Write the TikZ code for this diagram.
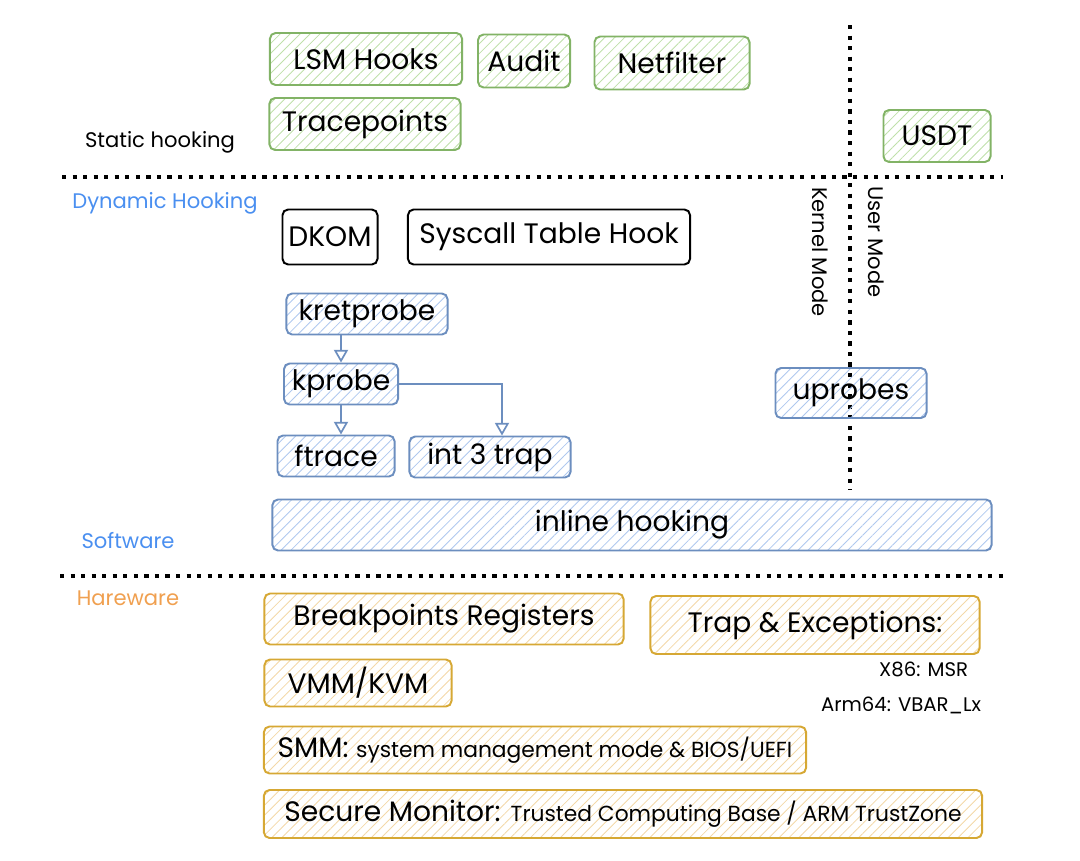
\documentclass[tikz,border=0pt]{standalone}
\usepackage{fontspec}
\setmainfont{Poppins}
\usetikzlibrary{positioning,calc,arrows.meta,patterns.meta}

\definecolor{grnline}{HTML}{82B366}
\definecolor{grnfill}{HTML}{BFE0AA}
\definecolor{bluline}{HTML}{6C8EBF}
\definecolor{blufill}{HTML}{AFC8EE}
\definecolor{orgline}{HTML}{D6A834}
\definecolor{orgfill}{HTML}{F3D8A8}
\definecolor{lbltblue}{HTML}{4A8FF0}
\definecolor{lblorange}{HTML}{F0A050}

\begin{document}
\begin{tikzpicture}[x=0.025cm, y=-0.025cm,
    box/.style={draw, line width=1.4pt, rounded corners=4pt, inner sep=0pt,
        font=\fontsize{20}{24}\selectfont},
    grnbox/.style={box, draw=grnline, pattern={Lines[angle=45,distance=5pt,line width=0.6pt]}, pattern color=grnfill},
    blubox/.style={box, draw=bluline, pattern={Lines[angle=45,distance=5pt,line width=0.6pt]}, pattern color=blufill},
    orgbox/.style={box, draw=orgline, pattern={Lines[angle=45,distance=5pt,line width=0.6pt]}, pattern color=orgfill},
    blkbox/.style={box, draw=black, fill=white},
    sep/.style={line width=2.4pt, dash pattern=on 3pt off 4.5pt},
    lbl/.style={font=\fontsize{15}{18}\selectfont},
    note/.style={anchor=east, font=\fontsize{14}{17}\selectfont},
    link/.style={draw=bluline, line width=1.2pt, -{Triangle[open,length=9pt,width=10pt]}}]

    \useasboundingbox (0,0) rectangle (1080,861);

    % separators
    \coordinate (L1) at (62,177);
    \coordinate (R1) at (1003,177);
    \coordinate (L2) at (60,576);
    \coordinate (R2) at (1003,576);
    \coordinate (T) at (850,25);
    \coordinate (B) at (850,490);
    \draw[sep] (L1) -- (R1);
    \draw[sep] (L2) -- (R2);
    \draw[sep] (T) -- (B);

    % labels
    \node[lbl] (static) at (160,142) {Static hooking};
    \node[lbl, text=lbltblue] (dynamic) at (165,203) {Dynamic Hooking};
    \node[lbl, text=lbltblue] (software) at (128,541) {Software};
    \node[lbl, text=lblorange] (hardware) at (128,598) {Hareware};
    \node[lbl, rotate=-90] (kernel) at (820,252) {Kernel Mode};
    \node[lbl, rotate=-90] (user) at (876,242) {User Mode};

    % static hooks
    \node[grnbox, minimum width=4.8cm, minimum height=1.3cm] (lsm) at (366,59) {LSM Hooks};
    \node[grnbox, minimum width=2.3cm, minimum height=1.325cm] (audit) at (524,61) {Audit};
    \node[grnbox, minimum width=3.875cm, minimum height=1.325cm] (netfilter) at (672,63) {Netfilter};
    \node[grnbox, minimum width=4.775cm, minimum height=1.3cm] (tracepoints) at (365,124) {Tracepoints};
    \node[grnbox, minimum width=2.675cm, minimum height=1.3cm] (usdt) at (937,136) {USDT};

    % dynamic hooks
    \node[blkbox, minimum width=2.375cm, minimum height=1.375cm] (dkom) at (330,237) {DKOM};
    \node[blkbox, minimum width=7.05cm, minimum height=1.375cm] (syscall) at (549,237) {Syscall Table Hook};
    \node[blubox, minimum width=4.025cm, minimum height=1.025cm] (kretprobe) at (367,314) {kretprobe};
    \node[blubox, minimum width=2.85cm, minimum height=1.025cm] (kprobe) at (341,384) {kprobe};
    \node[blubox, minimum width=2.925cm, minimum height=1.025cm] (ftrace) at (336,456) {ftrace};
    \node[blubox, minimum width=4.025cm, minimum height=1.025cm] (int3) at (490,457) {int 3 trap};
    \node[blubox, minimum width=3.775cm, minimum height=1.25cm] (uprobes) at (851,393) {uprobes};
    \node[blubox, minimum width=17.975cm, minimum height=1.275cm] (inline) at (632,525) {inline hooking};

    \draw[link] (kprobe.north |- kretprobe.south) -- (kprobe.north);
    \draw[link] (kprobe.south) -- (kprobe.south |- ftrace.north);
    \draw[link] (kprobe.east) -| ($(int3.north)+(12,0)$);

    % hardware
    \node[orgbox, minimum width=8.975cm, minimum height=1.275cm] (breakpoints) at (444,619) {Breakpoints Registers};
    \node[orgbox, minimum width=8.225cm, minimum height=1.45cm] (trap) at (815,625) {Trap \& Exceptions:};
    \node[note] (x86) at (973,669) {X86: MSR};
    \node[note] (arm) at (986,705) {Arm64: VBAR\_Lx};
    \node[orgbox, minimum width=4.675cm, minimum height=1.175cm] (vmm) at (358,683) {VMM/KVM};
    \node[orgbox, minimum width=13.55cm, minimum height=1.175cm] (smm) at (535,750)
        {SMM: {\fontsize{15.5}{18}\selectfont system management mode \& BIOS/UEFI}};
    \node[orgbox, minimum width=17.95cm, minimum height=1.2cm] (secure) at (623,814)
        {Secure Monitor: {\fontsize{15.5}{18}\selectfont Trusted Computing Base / ARM TrustZone}};
\end{tikzpicture}
\end{document}
